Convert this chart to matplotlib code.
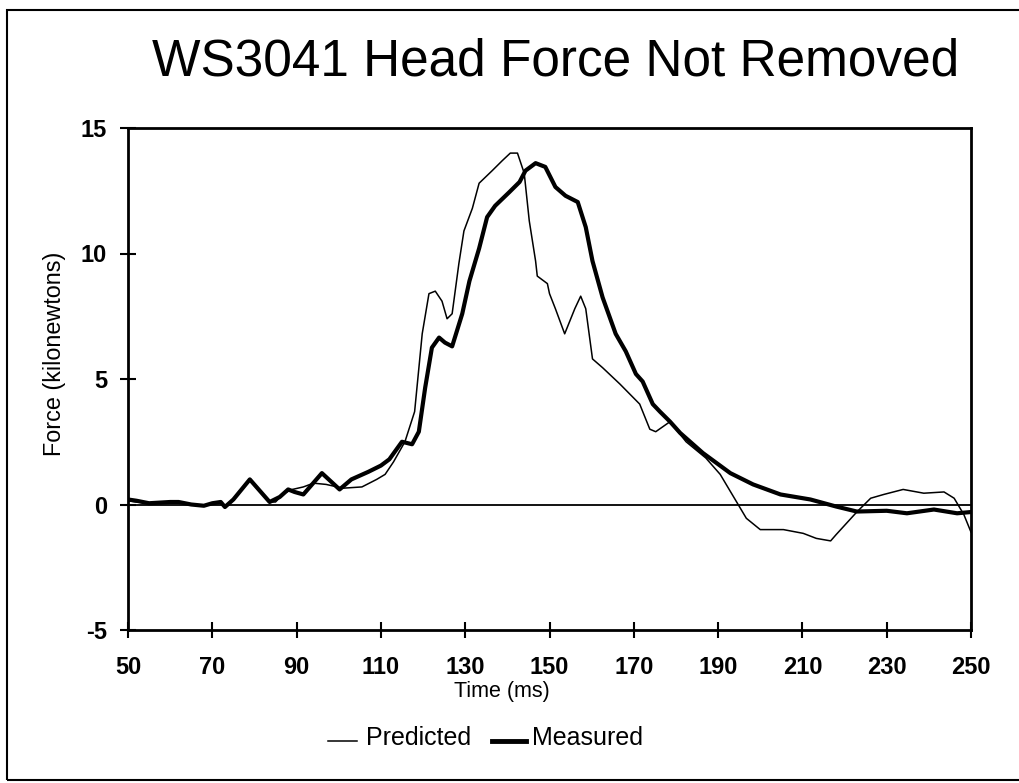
import matplotlib
matplotlib.use("Agg")
import matplotlib.pyplot as plt
from matplotlib.patches import Rectangle
from matplotlib.lines import Line2D

plt.rcParams['font.family'] = ['Liberation Sans', 'DejaVu Sans']
plt.rcParams['axes.unicode_minus'] = False

title = "WS3041 Head Force Not Removed"
x_label = "Time (ms)"
y_label = "Force (kilonewtons)"
x_ticks = [50, 70, 90, 110, 130, 150, 170, 190, 210, 230, 250]
y_ticks = [-5, 0, 5, 10, 15]

measured_t = [50, 52, 55, 60, 62, 65, 68, 70, 72, 73, 75, 78.9, 83.6, 86, 88, 89.5, 91.6,
              96, 100.2, 103, 107, 110, 112, 115, 117.4, 119, 120.5, 122.1, 123.8, 125.2,
              126.9, 129.3, 131, 133.3, 135.2, 137.1, 140.5, 142.9, 144.3, 146.7, 149,
              151.4, 153.8, 156.7, 158.6, 160.2, 162.6, 165.7, 168.1, 170.5, 172.1, 174.5,
              176.2, 178.6, 181, 186.4, 192.9, 198.3, 204.8, 211.9, 218, 222.9, 230, 234.8,
              241.2, 246.7, 250]
measured_f = [0.2, 0.15, 0.05, 0.1, 0.1, 0.0, -0.05, 0.05, 0.1, -0.1, 0.2, 1.0, 0.1, 0.3,
              0.6, 0.5, 0.4, 1.25, 0.6, 1.0, 1.3, 1.55, 1.8, 2.5, 2.4, 2.9, 4.65, 6.25, 6.65,
              6.45, 6.3, 7.6, 8.9, 10.2, 11.45, 11.9, 12.45, 12.85, 13.3, 13.6, 13.45, 12.65,
              12.3, 12.05, 11.05, 9.7, 8.25, 6.8, 6.1, 5.2, 4.9, 4.0, 3.7, 3.3, 2.85, 2.05,
              1.25, 0.8, 0.4, 0.2, -0.08, -0.28, -0.25, -0.35, -0.2, -0.35, -0.3]

predicted_t = [50, 52, 55, 60, 62, 65, 68, 70, 72, 73, 75, 78.9, 83.6, 85, 87, 89, 91.6, 94,
               97, 101, 105.5, 109, 111, 113, 115.7, 118, 119.8, 121.4, 122.9, 124.5, 125.7,
               126.9, 128.5, 129.7, 131.7, 133.3, 136.4, 138.8, 140.7, 142.4, 144, 145.2,
               146.7, 147.1, 149.5, 150, 151.4, 153.6, 156, 157.4, 158.6, 160.2, 162.6,
               166.7, 171.4, 173.8, 175.2, 178.6, 182.4, 187.1, 190.5, 194.4, 196.7, 200,
               205.5, 210.2, 213.3, 216.7, 218, 222.9, 226.2, 229.3, 233.9, 238.8, 243.6,
               246, 248.3, 250]
predicted_f = [0.15, 0.1, 0.05, 0.1, 0.1, 0.0, -0.05, 0.05, 0.1, -0.1, 0.2, 0.95, 0.1, 0.1,
               0.45, 0.6, 0.7, 0.85, 0.8, 0.65, 0.7, 1.0, 1.2, 1.7, 2.5, 3.7, 6.8, 8.4, 8.5,
               8.1, 7.4, 7.6, 9.6, 10.9, 11.8, 12.8, 13.3, 13.7, 14.0, 14.0, 13.2, 11.3, 9.7,
               9.1, 8.8, 8.4, 7.8, 6.8, 7.8, 8.3, 7.8, 5.8, 5.45, 4.8, 4.0, 3.0, 2.9, 3.3,
               2.5, 1.85, 1.2, 0.1, -0.55, -1.0, -1.0, -1.15, -1.35, -1.45, -1.2, -0.3,
               0.25, 0.4, 0.6, 0.45, 0.5, 0.25, -0.4, -1.1]

W, H = 1020, 783
fig = plt.figure(figsize=(10.2, 7.83), dpi=100)
ax = fig.add_axes([128/W, 1-630/H, (971-128)/W, (630-128)/H])

ax.axhline(0, color='black', lw=1.3, zorder=1)
ax.plot(predicted_t, predicted_f, color='black', lw=1.1, zorder=2)
ax.plot(measured_t, measured_f, color='black', lw=3.0, zorder=3)

ax.set_xlim(50, 250)
ax.set_ylim(-5, 15)
ax.set_xticks(x_ticks)
ax.set_yticks(y_ticks)
ax.tick_params(direction='inout', length=12, width=1.5, labelsize=17)
ax.tick_params(axis='x', pad=13)
ax.tick_params(axis='y', pad=9)
for lab in ax.get_xticklabels() + ax.get_yticklabels():
    lab.set_fontweight('bold')
for s in ax.spines.values():
    s.set_linewidth(2)

fig.text(502/W, 1-692/H, x_label, fontsize=15.5, ha='center', va='center')
fig.text(55/W, 1-354/H, y_label, fontsize=16.8, ha='center', va='center', rotation=90)

fig.text(556/W, 1-75/H, title, ha='center', va='baseline', fontsize=37)

# legend
fig.add_artist(Line2D([328/W, 357/W], [1-741/H, 1-741/H], color='black', lw=1.1))
fig.text(366/W, 1-738/H, "Predicted", fontsize=18, ha='left', va='center')
fig.add_artist(Line2D([492/W, 526/W], [1-741/H, 1-741/H], color='black', lw=3.5))
fig.text(532/W, 1-738/H, "Measured", fontsize=18, ha='left', va='center')

# outer border
fig.add_artist(Rectangle((7/W, 1-780/H), 1.1, (780-10)/H, transform=fig.transFigure,
                         fill=False, lw=1.5, edgecolor='black'))

fig.savefig("out.png", dpi=100, facecolor='white')
